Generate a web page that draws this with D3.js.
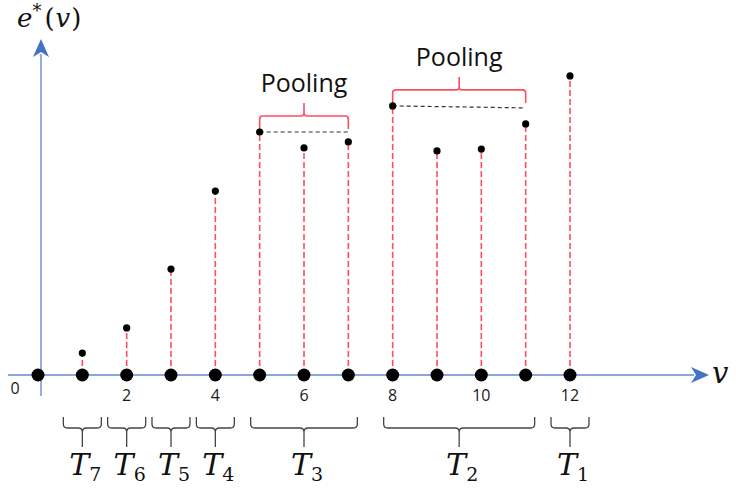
<!DOCTYPE html>
<html>
<head>
<meta charset="utf-8">
<script src="https://cdn.jsdelivr.net/npm/d3@7"></script>
<style>
  body { margin: 0; background: #fff; }
  svg { display: block; }
</style>
</head>
<body>
<svg id="drawing_region"></svg>
<script>
// node index v and its estimated e*(v) value (0 = on the axis)
const nodes = [0, 1, 2, 3, 4, 5, 6, 7, 8, 9, 10, 11, 12];
const values = [0, 0.73, 1.57, 3.53, 6.13, 8.1, 7.57, 7.77, 8.97, 7.47, 7.53, 8.37, 9.97];
const tickValues = [0, 2, 4, 6, 8, 10, 12];
// groups T_k: first and last node of each group
const groupNames = ['7', '6', '5', '4', '3', '2', '1'];
const groupStart = [1, 2, 3, 4, 5, 8, 12];
const groupEnd = [1, 2, 3, 4, 7, 11, 12];
// pooled groups (index into the groups above)
const pooledGroups = [4, 5];

const config = {
    parent: '#drawing_region',
    width: 736,
    height: 488,
    baseline: 375,
    axisX: 41
};

const svg = d3.select(config.parent)
    .attr('width', config.width)
    .attr('height', config.height);

const xscale = d3.scaleLinear().domain([0, 12]).range([38, 570]);
const yscale = d3.scaleLinear().domain([0, 10]).range([config.baseline, 75]);

const blue = '#4472c4';
const lineBlue = '#8aa6dc';
const red = '#ff4d5e';
const mathFont = 'DejaVu Serif, serif';

// axes
svg.append('line')
    .attr('x1', 8).attr('x2', 694)
    .attr('y1', config.baseline).attr('y2', config.baseline)
    .attr('stroke', lineBlue).attr('stroke-width', 1.8);
svg.append('path')
    .attr('d', `M709,${config.baseline} L691,${config.baseline - 8} L696,${config.baseline} L691,${config.baseline + 8} Z`)
    .attr('fill', blue);

svg.append('line')
    .attr('x1', config.axisX).attr('x2', config.axisX)
    .attr('y1', 396).attr('y2', 54)
    .attr('stroke', lineBlue).attr('stroke-width', 1.8);
svg.append('path')
    .attr('d', `M${config.axisX},39 L${config.axisX - 8},57 L${config.axisX},52 L${config.axisX + 8},57 Z`)
    .attr('fill', blue);

// tick labels
svg.append('g')
    .selectAll('text')
    .data(tickValues)
    .join('text')
    .attr('x', d => d === 0 ? 15 : xscale(d))
    .attr('y', d => d === 0 ? 394 : 401)
    .attr('text-anchor', 'middle')
    .attr('font-family', 'Open Sans, sans-serif')
    .attr('font-size', 16)
    .attr('fill', '#1a1a1a')
    .text(d => d);

// axis titles
const ylab = svg.append('text')
    .attr('x', 17).attr('y', 27)
    .attr('font-family', mathFont)
    .attr('font-size', 26)
    .attr('fill', '#111');
ylab.append('tspan').attr('font-style', 'italic').text('e');
ylab.append('tspan').attr('dy', -10).attr('font-size', 18).text('*');
ylab.append('tspan').attr('dy', 10).attr('dx', 3).text('(');
ylab.append('tspan').attr('dx', 1).attr('font-style', 'italic').text('v');
ylab.append('tspan').attr('dx', 1).text(')');

svg.append('text')
    .attr('x', 712).attr('y', 383)
    .attr('font-family', mathFont)
    .attr('font-style', 'italic')
    .attr('font-size', 29)
    .attr('fill', '#111')
    .text('v');

// red dashed stems
const pts = nodes.map((v, i) => ({ v: v, e: values[i] }));
svg.append('g')
    .selectAll('line')
    .data(pts.filter(d => d.e > 0))
    .join('line')
    .attr('x1', d => xscale(d.v)).attr('x2', d => xscale(d.v))
    .attr('y1', yscale(0)).attr('y2', d => yscale(d.e))
    .attr('stroke', red)
    .attr('stroke-width', 1.6)
    .attr('stroke-dasharray', '6,3');

// pooling dashed lines and red brackets
pooledGroups.forEach((g, k) => {
    const s = groupStart[g], e = groupEnd[g];
    const level = d3.max(values.slice(s, e + 1));
    const x0 = xscale(s), x1 = xscale(e), xc = (x0 + x1) / 2;
    const py = yscale(level);

    svg.append('line')
        .attr('x1', x0).attr('x2', x1)
        .attr('y1', py).attr('y2', py + k * 2)
        .attr('stroke', '#333')
        .attr('stroke-width', 1.2)
        .attr('stroke-dasharray', '4,3');

    const yEnd = py - 3, yh = py - 16, yt = py - 29;
    svg.append('path')
        .attr('d', `M${x0},${yEnd} L${x0},${yh + 3} Q${x0},${yh} ${x0 + 3},${yh} L${xc - 3},${yh} Q${xc},${yh} ${xc},${yh - 3} L${xc},${yt}` +
                   ` M${xc},${yh - 3} Q${xc},${yh} ${xc + 3},${yh} L${x1 - 3},${yh} Q${x1},${yh} ${x1},${yh + 3} L${x1},${yEnd}`)
        .attr('fill', 'none')
        .attr('stroke', red)
        .attr('stroke-width', 1.6);

    svg.append('text')
        .attr('x', xc).attr('y', py - 40)
        .attr('text-anchor', 'middle')
        .attr('font-family', 'Open Sans, sans-serif')
        .attr('font-size', 25)
        .attr('fill', '#111')
        .text('Pooling');
});

// nodes on the axis
svg.append('g')
    .selectAll('circle')
    .data(pts)
    .join('circle')
    .attr('cx', d => xscale(d.v))
    .attr('cy', yscale(0))
    .attr('r', 6.5)
    .attr('fill', '#000');

// e*(v) points
svg.append('g')
    .selectAll('circle')
    .data(pts.filter(d => d.e > 0))
    .join('circle')
    .attr('cx', d => xscale(d.v))
    .attr('cy', d => yscale(d.e))
    .attr('r', 3.6)
    .attr('fill', '#000');

// braces under the axis for T_k
const braceTop = 417, braceMid = 428, braceBot = 447;
groupNames.forEach((name, i) => {
    const pad = groupStart[i] === groupEnd[i] ? 19 : 9;
    const x0 = xscale(groupStart[i]) - pad, x1 = xscale(groupEnd[i]) + pad;
    const xc = (x0 + x1) / 2;
    svg.append('path')
        .attr('d', `M${x0},${braceTop} L${x0},${braceMid - 4} Q${x0},${braceMid} ${x0 + 4},${braceMid} L${xc - 4},${braceMid} Q${xc},${braceMid} ${xc},${braceMid + 4} L${xc},${braceBot}` +
                   ` M${xc},${braceMid + 4} Q${xc},${braceMid} ${xc + 4},${braceMid} L${x1 - 4},${braceMid} Q${x1},${braceMid} ${x1},${braceMid - 4} L${x1},${braceTop}`)
        .attr('fill', 'none')
        .attr('stroke', '#444')
        .attr('stroke-width', 1.3);

    const t = svg.append('text')
        .attr('x', xc + 3).attr('y', 475)
        .attr('text-anchor', 'middle')
        .attr('font-family', mathFont)
        .attr('font-size', 30)
        .attr('fill', '#111');
    t.append('tspan').attr('font-style', 'italic').text('T');
    t.append('tspan').attr('dy', 6).attr('font-size', 19).text(name);
});
</script>
</body>
</html>
